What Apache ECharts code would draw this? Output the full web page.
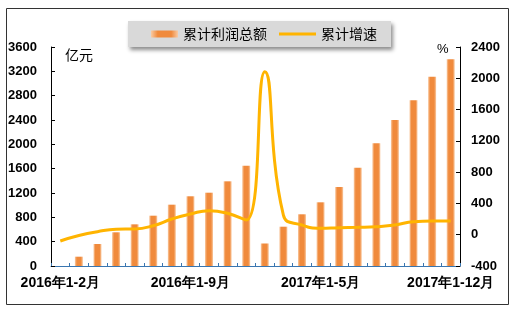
<!DOCTYPE html>
<html>
<head>
<meta charset="utf-8">
<script src="https://cdn.jsdelivr.net/npm/echarts@6/dist/echarts.min.js"></script>
<style>
html,body{margin:0;padding:0;background:#fff;}
#chart{width:520px;height:315px;}
</style>
</head>
<body>
<div id="chart"></div>
<script>
var categories = ['2016年1-2月','2016年1-3月','2016年1-4月','2016年1-5月','2016年1-6月','2016年1-7月','2016年1-8月','2016年1-9月','2016年1-10月','2016年1-11月','2016年1-12月',
  '2017年1-2月','2017年1-3月','2017年1-4月','2017年1-5月','2017年1-6月','2017年1-7月','2017年1-8月','2017年1-9月','2017年1-10月','2017年1-11月','2017年1-12月'];
var profitTotal = [null, 153, 362, 554, 685, 827, 1008, 1146, 1205, 1392, 1649, 370, 646, 850, 1047, 1299, 1616, 2017, 2400, 2724, 3112, 3398];
var growthRate = [-80, -10, 39, 70, 73, 115, 201, 265, 307, 274, 188, 2085, 250, 124, 82, 90, 95, 103, 124, 167, 176, 176];
var leftTicks = {min: 0, max: 3600, interval: 400};
var rightTicks = {min: -400, max: 2400, interval: 400};
var seriesNames = ['累计利润总额', '累计增速'];

var chart = echarts.init(document.getElementById('chart'), null, {renderer: 'canvas'});
var labelFont = {fontFamily: 'Arial, "Liberation Sans", sans-serif', fontWeight: 'bold', fontSize: 13, color: '#000'};
var plain = function (v) { return String(v); };
chart.setOption({
  animation: false,
  backgroundColor: '#fff',
  grid: {left: 51, right: 60, top: 47, bottom: 49, containLabel: false},
  legend: [{
    data: [{name: seriesNames[0], icon: 'rect'}],
    left: 151, top: 27, padding: 0,
    itemWidth: 27, itemHeight: 7,
    textStyle: {fontFamily: '"Noto Sans CJK SC", sans-serif', fontSize: 14, color: '#000'}
  }, {
    data: [{name: seriesNames[1], icon: 'rect'}],
    left: 279, top: 27, padding: 0,
    itemWidth: 37, itemHeight: 3,
    textStyle: {fontFamily: '"Noto Sans CJK SC", sans-serif', fontSize: 14, color: '#000'}
  }],
  graphic: [
    {type: 'rect', z: -1, shape: {x: 6.5, y: 8.5, width: 502, height: 296}, style: {fill: 'none', stroke: '#333', lineWidth: 1}},
    {type: 'rect', z: 0, shape: {x: 128, y: 21, width: 263, height: 26},
      style: {fill: '#d9d9d9', shadowBlur: 4, shadowOffsetX: 2, shadowOffsetY: 3, shadowColor: 'rgba(0,0,0,0.45)'}},
    {type: 'text', left: 65, top: 48, style: {text: '亿元', fontFamily: '"Noto Sans CJK SC", sans-serif', fontSize: 14, fill: '#000'}},
    {type: 'text', left: 437, top: 43, style: {text: '%', fontFamily: 'Arial, "Liberation Sans", sans-serif', fontSize: 13, fill: '#000'}}
  ],
  xAxis: {
    type: 'category',
    data: categories,
    boundaryGap: true,
    axisLine: {lineStyle: {color: '#3a76b0', width: 1}},
    axisTick: {show: true, inside: true, length: 3, interval: 0, lineStyle: {color: '#3a76b0'}},
    axisLabel: Object.assign({}, labelFont, {fontSize: 14, interval: 6, margin: 10})
  },
  yAxis: [{
    type: 'value', min: leftTicks.min, max: leftTicks.max, interval: leftTicks.interval,
    splitLine: {show: false},
    axisLine: {show: true, lineStyle: {color: '#000'}},
    axisTick: {show: true, inside: true, length: 4, lineStyle: {color: '#000'}},
    axisLabel: Object.assign({}, labelFont, {margin: 14, formatter: plain})
  }, {
    type: 'value', min: rightTicks.min, max: rightTicks.max, interval: rightTicks.interval,
    position: 'right',
    splitLine: {show: false},
    axisLine: {show: true, lineStyle: {color: '#000'}},
    axisTick: {show: true, inside: true, length: 4, lineStyle: {color: '#000'}},
    axisLabel: Object.assign({}, labelFont, {margin: 11, formatter: plain})
  }],
  series: [{
    name: seriesNames[0],
    type: 'bar',
    yAxisIndex: 0,
    barWidth: 8,
    data: profitTotal,
    itemStyle: {
      color: new echarts.graphic.LinearGradient(0, 0, 1, 0, [
        {offset: 0, color: '#f9cba4'},
        {offset: 0.25, color: '#f08a3c'},
        {offset: 0.75, color: '#f08a3c'},
        {offset: 1, color: '#f9cba4'}
      ])
    }
  }, {
    name: seriesNames[1],
    type: 'line',
    yAxisIndex: 1,
    smooth: 0.5,
    symbol: 'none',
    data: growthRate,
    lineStyle: {color: '#ffb400', width: 3},
    itemStyle: {color: '#ffb400'}
  }]
});
</script>
</body>
</html>
